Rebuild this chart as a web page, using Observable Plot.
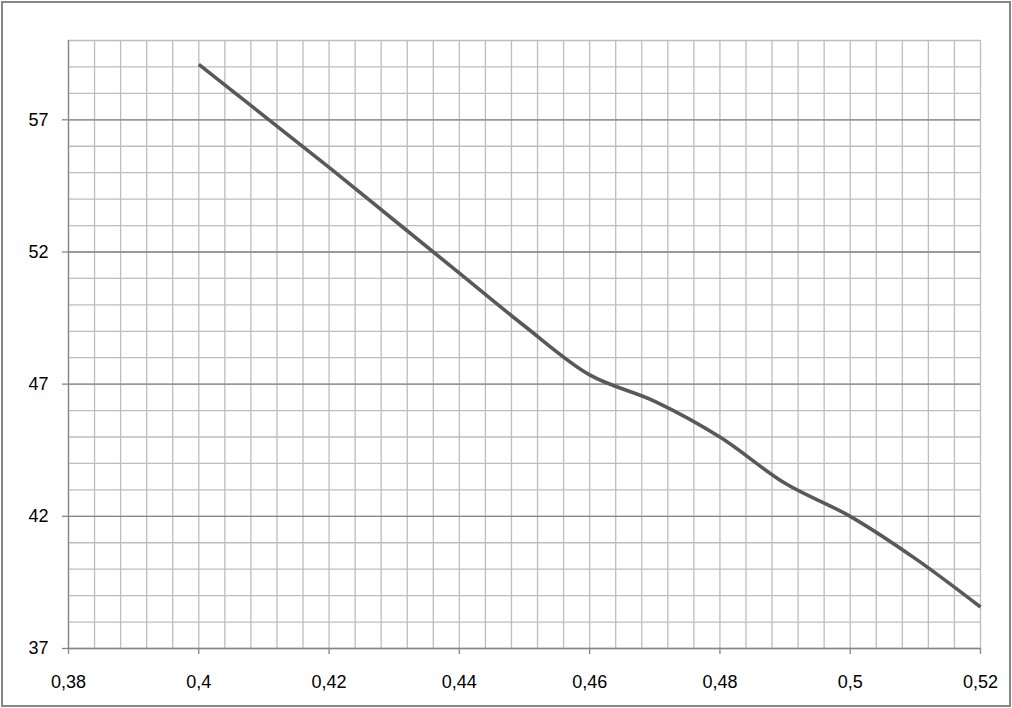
<!DOCTYPE html>
<html>
<head>
<meta charset="utf-8">
<script src="https://cdn.jsdelivr.net/npm/d3@7"></script>
<script src="https://cdn.jsdelivr.net/npm/@observablehq/plot@0.6"></script>
<style>
  html, body { margin: 0; padding: 0; background: #fff; }
  #chart svg { display: block; outline: 2px solid #868686; outline-offset: -3px; }
</style>
</head>
<body>
<div id="chart"></div>
<script>
// Data
const xValues = [0.40, 0.41, 0.42, 0.43, 0.44, 0.45, 0.46, 0.47, 0.48, 0.49, 0.50, 0.51, 0.52];
const yValues = [59.1, 57.15, 55.2, 53.2, 51.2, 49.2, 47.35, 46.35, 45.0, 43.25, 42.0, 40.4, 38.57];

// Axis ticks
const xTicks = [0.38, 0.40, 0.42, 0.44, 0.46, 0.48, 0.50, 0.52];
const yTicks = [37, 42, 47, 52, 57];
const xGridStep = 0.004;
const yGridStep = 1;
const xDomain = [0.38, 0.52];
const yDomain = [37, 60];

const data = xValues.map((x, i) => ({x, y: yValues[i]}));
const xGrid = d3.range(0, 36).map(i => +(xDomain[0] + i * xGridStep).toFixed(4));
const yGrid = d3.range(yDomain[0], yDomain[1] + 0.5, yGridStep);
const fmt = d => String(+d.toFixed(3)).replace(".", ",");

const axisColor = "#868686";
const gridColor = "#bdbdbd";

const chart = Plot.plot({
  width: 1012,
  height: 708,
  marginLeft: 68,
  marginRight: 32,
  marginTop: 40,
  marginBottom: 60,
  style: {fontFamily: "'Liberation Sans', Arial, sans-serif", fontSize: "18px", color: "#000", background: "#fff"},
  x: {domain: xDomain},
  y: {domain: yDomain},
  marks: [
    Plot.ruleX(xGrid, {stroke: gridColor, strokeWidth: 1.3}),
    Plot.ruleY(yGrid, {stroke: gridColor, strokeWidth: 1.3}),
    Plot.ruleY(yTicks, {stroke: axisColor, strokeWidth: 1.3}),
    Plot.ruleX([xDomain[0]], {stroke: axisColor, strokeWidth: 1.3}),
    Plot.axisX({ticks: xTicks, tickFormat: fmt, tickSize: 6, tickPadding: 21, stroke: axisColor, strokeWidth: 1.3, label: null, fill: "#000"}),
    Plot.axisY({ticks: yTicks, tickFormat: fmt, tickSize: 6, tickPadding: 14, stroke: axisColor, strokeWidth: 1.3, label: null, fill: "#000"}),
    Plot.line(data, {x: "x", y: "y", curve: "catmull-rom", stroke: "#595959", strokeWidth: 3.6, strokeLinecap: "butt"})
  ]
});
document.getElementById("chart").appendChild(chart);
</script>
</body>
</html>
